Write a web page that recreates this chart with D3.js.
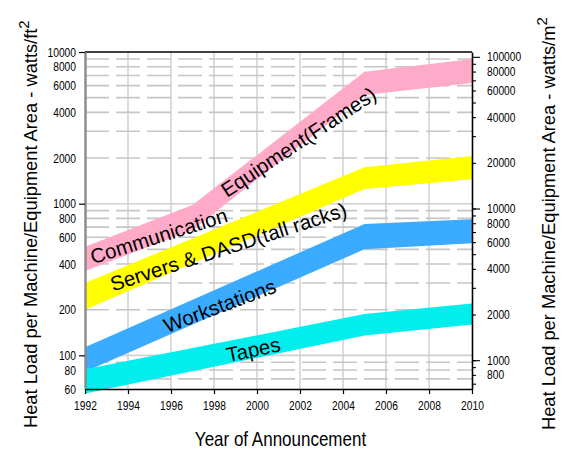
<!DOCTYPE html>
<html>
<head>
<meta charset="utf-8">
<script src="https://cdn.jsdelivr.net/npm/d3@7/dist/d3.min.js"></script>
<style>
  body { margin: 0; background: #fff; }
  svg { display: block; font-family: "Liberation Sans", Arial, Helvetica, sans-serif; }
</style>
</head>
<body>
<svg id="chart" width="562" height="449"></svg>
<script>
// ---- data -------------------------------------------------------------
const yearTicks  = [1992, 1994, 1996, 1998, 2000, 2002, 2004, 2006, 2008, 2010];
const leftTicks  = [10000, 8000, 6000, 4000, 2000, 1000, 800, 600, 400, 200, 100, 80, 60];
const rightTicks = [100000, 80000, 60000, 40000, 20000, 10000, 8000, 6000, 4000, 2000, 1000, 800];

// Heat load bands, watts/ft^2 (upper and lower edge of each band)
const commYears    = [1992, 1997, 2005, 2010];
const commHigh     = [520, 980, 7400, 9000];
const commLow      = [360, 670, 5200, 6250];

const serverYears  = [1992, 2005, 2010];
const serverHigh   = [300, 1740, 2060];
const serverLow    = [200, 1250, 1450];

const workYears    = [1992, 2005, 2010];
const workHigh     = [113, 735, 790];
const workLow      = [78, 500, 548];

const tapeYears    = [1992, 2005, 2010];
const tapeHigh     = [81, 187, 220];
const tapeLow      = [56, 135, 160];

const FT2_PER_M2 = 10.7639;

// ---- layout -----------------------------------------------------------
const svg = d3.select("#chart");
const X0 = 85, X1 = 472, Y0 = 389, Y1 = 52;

const x  = d3.scaleLinear().domain([1992, 2010]).range([X0, X1]);
const y  = d3.scaleLog().domain([60, 10000]).range([Y0, Y1]);
const yR = d3.scaleLog().domain([60 * FT2_PER_M2, 10000 * FT2_PER_M2]).range([Y0, Y1]);

const narrow = 0.82;   // horizontal squeeze of the axis lettering

// gridlines
const grid = svg.append("g");
grid.selectAll("line.v")
  .data(yearTicks.filter(d => d > 1992 && d < 2010))
  .join("line")
  .attr("x1", d => x(d)).attr("x2", d => x(d))
  .attr("y1", Y1).attr("y2", Y0)
  .attr("stroke", "#d3d3d3").attr("stroke-width", 1.6);

const minorVals = [];
[10, 100, 1000].forEach(dec => {
  for (let k = 2; k <= 9; k++) {
    const v = k * dec;
    if (v > 60 && v < 10000) minorVals.push(v);
  }
});
grid.selectAll("line.h")
  .data(minorVals)
  .join("line")
  .attr("x1", X0).attr("x2", X1)
  .attr("y1", d => y(d)).attr("y2", d => y(d))
  .attr("stroke", "#c6c6c6").attr("stroke-width", 1.6)
  .attr("stroke-dasharray", "24,7");
grid.selectAll("line.d")
  .data([100, 1000])
  .join("line")
  .attr("x1", X0).attr("x2", X1)
  .attr("y1", d => y(d)).attr("y2", d => y(d))
  .attr("stroke", "#d0d0d0").attr("stroke-width", 1.6);

// bands
const bands = [
  { years: commYears,   high: commHigh,   low: commLow,   color: "#ffaac9" },
  { years: serverYears, high: serverHigh, low: serverLow, color: "#ffff00" },
  { years: workYears,   high: workHigh,   low: workLow,   color: "#3aabff" },
  { years: tapeYears,   high: tapeHigh,   low: tapeLow,   color: "#00eeee" }
];
const area = d3.area()
  .x(d => x(d.year))
  .y0(d => y(d.low))
  .y1(d => y(d.high));
svg.append("g").selectAll("path")
  .data(bands)
  .join("path")
  .attr("d", b => area(b.years.map((yr, i) => ({ year: yr, high: b.high[i], low: b.low[i] }))))
  .attr("fill", d => d.color);

// frame: top edge
svg.append("line")
  .attr("x1", X0).attr("x2", X1).attr("y1", Y1).attr("y2", Y1)
  .attr("stroke", "#000").attr("stroke-width", 1.5);

// bottom axis
const gx = svg.append("g").attr("transform", `translate(0,${Y0})`)
  .call(d3.axisBottom(x).tickValues(yearTicks).tickSize(5).tickSizeOuter(0)
        .tickPadding(7).tickFormat(d3.format("d")));
gx.select(".domain").attr("stroke", "#000").attr("stroke-width", 1.6);
gx.selectAll(".tick line").attr("stroke", "#000").attr("stroke-width", 1.2);
gx.selectAll(".tick text")
  .attr("font-size", 12.5).attr("fill", "#000")
  .attr("transform", `scale(${narrow},1)`);

// left axis: labels
const gl = svg.append("g").attr("transform", `translate(${X0},0)`)
  .call(d3.axisLeft(y).tickValues(leftTicks).tickSize(0).tickSizeOuter(0)
        .tickFormat(d3.format("d")));
gl.select(".domain").remove();
gl.selectAll(".tick text")
  .attr("font-size", 12.5).attr("fill", "#000")
  .attr("x", 0)
  .attr("transform", `translate(-9,0) scale(${narrow},1)`);
// left axis: line and decade ticks
const gl2 = svg.append("g").attr("transform", `translate(${X0},0)`)
  .call(d3.axisLeft(y).tickValues([100, 1000, 10000]).tickSize(6).tickSizeOuter(0).tickFormat(""));
gl2.select(".domain").attr("stroke", "#8a8a8a").attr("stroke-width", 2.4);
gl2.selectAll(".tick line").attr("stroke", "#000").attr("stroke-width", 1.2);

// right axis: minor ticks, decade ticks, labels
const rightMinor = [];
[100, 1000, 10000].forEach(dec => {
  for (let k = 1; k <= 9; k++) {
    const v = k * dec;
    if (v >= 700 && v <= 100000) rightMinor.push(v);
  }
});
const gr1 = svg.append("g").attr("transform", `translate(${X1},0)`)
  .call(d3.axisRight(yR).tickValues(rightMinor).tickSize(4).tickSizeOuter(0).tickFormat(""));
gr1.select(".domain").attr("stroke", "#000").attr("stroke-width", 1.6);
gr1.selectAll(".tick line").attr("stroke", "#000").attr("stroke-width", 1.1);
const gr2 = svg.append("g").attr("transform", `translate(${X1},0)`)
  .call(d3.axisRight(yR).tickValues([1000, 10000, 100000]).tickSize(8).tickSizeOuter(0).tickFormat(""));
gr2.select(".domain").remove();
gr2.selectAll(".tick line").attr("stroke", "#000").attr("stroke-width", 1.1);
const gr3 = svg.append("g").attr("transform", `translate(${X1},0)`)
  .call(d3.axisRight(yR).tickValues(rightTicks).tickSize(0).tickSizeOuter(0)
        .tickFormat(d3.format("d")));
gr3.select(".domain").remove();
gr3.selectAll(".tick text")
  .attr("font-size", 12.5).attr("fill", "#000")
  .attr("x", 0)
  .attr("transform", `translate(15,0) scale(${narrow},1)`);

// axis titles
svg.append("text")
  .attr("transform", `translate(${(X0 + X1) / 2 + 2},446) scale(0.85,1)`)
  .attr("text-anchor", "middle")
  .attr("font-size", 20)
  .text("Year of Announcement");

const leftTitle = svg.append("text")
  .attr("transform", "translate(37,428) rotate(-90)")
  .attr("font-size", 18.3);
leftTitle.append("tspan").text("Heat Load per Machine/Equipment Area - watts/ft");
leftTitle.append("tspan").attr("dy", -8).attr("font-size", 15).text("2");

const rightTitle = svg.append("text")
  .attr("transform", "translate(555,430) rotate(-90)")
  .attr("font-size", 18.3);
rightTitle.append("tspan").text("Heat Load per Machine/Equipment Area - watts/m");
rightTitle.append("tspan").attr("dy", -8).attr("font-size", 15).text("2");

// band labels, anchored in data units
const bandLabels = [
  { text: "Communication",              year: 1992.37, value: 399,  angle: 17.5 },
  { text: "Equipment(Frames)",          year: 1998.6,  value: 1090, angle: 33.5 },
  { text: "Servers & DASD(tall racks)", year: 1993.3,  value: 264,  angle: 17.8 },
  { text: "Workstations",               year: 1995.81, value: 140,  angle: 20.5 },
  { text: "Tapes",                      year: 1998.65, value: 90,   angle: 12 }
];
svg.append("g").selectAll("text")
  .data(bandLabels)
  .join("text")
  .attr("transform", d => `translate(${x(d.year)},${y(d.value)}) rotate(${-d.angle})`)
  .attr("font-size", 20.5)
  .attr("fill", "#000")
  .text(d => d.text);
</script>
</body>
</html>
